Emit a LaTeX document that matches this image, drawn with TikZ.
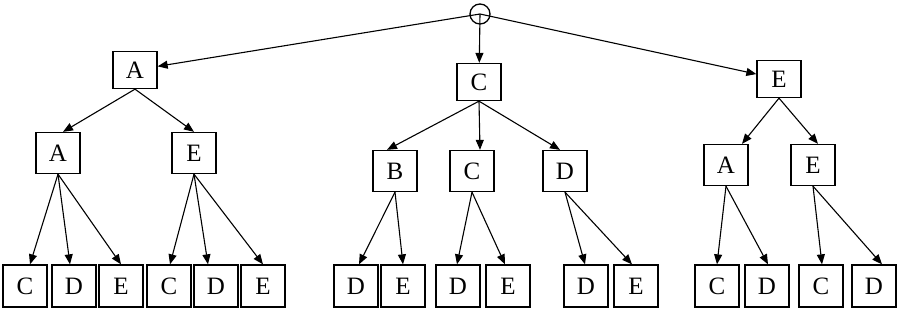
\documentclass[tikz,border=0pt]{standalone}
\usepackage{fontspec}
\setmainfont{Liberation Serif}
\usetikzlibrary{arrows.meta}
\begin{document}
\begin{tikzpicture}[x=1pt,y=-1pt,
  box/.style={draw,line width=1.3pt,minimum width=44pt,minimum height=41pt,inner sep=0pt,font=\fontsize{25}{25}\selectfont},
  top/.style={box,minimum height=37pt},
  arr/.style={line width=1.1pt,-{Triangle[length=10pt,width=8pt]}}]
\useasboundingbox (0,0) rectangle (900,311);
\node[draw,circle,line width=1.3pt,minimum size=20pt,inner sep=0pt] (r) at (480,14) {};
\node[top] (a1) at (135,70) {A};
\node[top] (c1) at (479,82) {C};
\node[top] (e1) at (779,79) {E};
\node[box] (a2) at (58,153) {A};
\node[box] (e2) at (194,153) {E};
\node[box] (b2) at (395,171) {B};
\node[box] (c2) at (472,171) {C};
\node[box] (d2) at (565,171) {D};
\node[box] (a3) at (726,165) {A};
\node[box] (e3) at (813,165) {E};
\foreach \n/\x/\t in {l1/25/C,l2/74/D,l3/121/E,l4/169/C,l5/216/D,l6/263/E,
  l7/356/D,l8/403/E,l9/458/D,l10/508/E,l11/586/D,l12/636/E,
  l13/717/C,l14/767/D,l15/821/C,l16/874/D}
  \node[box,minimum height=42pt] (\n) at (\x,286) {\t};
\draw[arr] (r.center) -- (a1);
\draw[arr] (r.center) -- (c1);
\draw[arr] (r.center) -- (e1);
\foreach \p/\c/\o in {a1/a2/5,a1/e2/0,c1/b2/-8,c1/c2/8,c1/d2/-5,e1/a3/16,e1/e3/5,
  a2/l1/5,a2/l2/-4,a2/l3/0,e2/l4/1,e2/l5/-8,e2/l6/0,b2/l7/3,b2/l8/0,
  c2/l9/-1,c2/l10/-3,d2/l11/-1,d2/l12/-4,a3/l13/0,a3/l14/1,e3/l15/1,e3/l16/8}
  \draw[arr] (\p.south) -- ([xshift=\o pt]\c.north);
\end{tikzpicture}
\end{document}
